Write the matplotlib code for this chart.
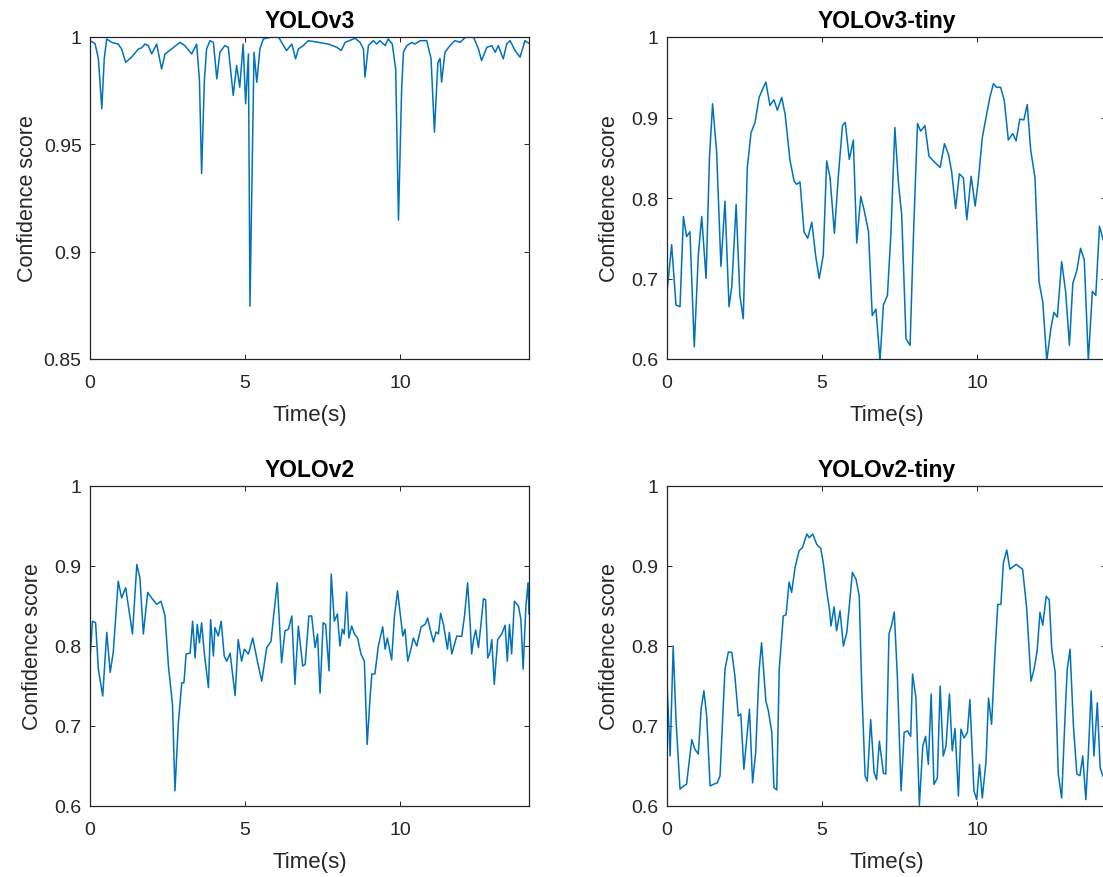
import matplotlib
matplotlib.use("Agg")
import matplotlib.pyplot as plt

plt.rcParams['font.family'] = ['Liberation Sans', 'DejaVu Sans']

# ---------------- data ----------------
titles = ["YOLOv3", "YOLOv3-tiny", "YOLOv2", "YOLOv2-tiny"]
xticks = [0, 5, 10]
xtick_labels = ["0", "5", "10"]
yticks_v3 = [0.85, 0.9, 0.95, 1.0]
ytick_labels_v3 = ["0.85", "0.9", "0.95", "1"]
yticks_other = [0.6, 0.7, 0.8, 0.9, 1.0]
ytick_labels_other = ["0.6", "0.7", "0.8", "0.9", "1"]
t_max = 14.16

t_v3 = [0, 0.16, 0.27, 0.38, 0.46, 0.54, 0.70, 0.91, 1.02, 1.15, 1.34, 1.56, 1.67, 1.77, 1.88, 1.99,
        2.15, 2.31, 2.42, 2.63, 2.90, 3.06, 3.28, 3.44, 3.53, 3.60, 3.69, 3.76, 3.87, 3.98, 4.09, 4.19,
        4.35, 4.46, 4.62, 4.73, 4.83, 4.94, 5.02, 5.11, 5.16, 5.29, 5.38, 5.48, 5.59, 5.86, 6.08, 6.18,
        6.34, 6.51, 6.63, 6.72, 6.88, 7.04, 7.37, 7.69, 7.96, 8.10, 8.23, 8.55, 8.71, 8.82, 8.87, 8.98,
        9.14, 9.25, 9.35, 9.52, 9.62, 9.75, 9.86, 9.95, 10.05, 10.11, 10.22, 10.38, 10.48, 10.65, 10.86,
        11.00, 11.11, 11.22, 11.29, 11.34, 11.45, 11.61, 11.77, 11.94, 12.10, 12.37, 12.53, 12.63, 12.80,
        12.96, 13.07, 13.17, 13.33, 13.44, 13.55, 13.71, 13.87, 14.03, 14.16]
conf_v3 = [0.9983, 0.997, 0.99, 0.9666, 0.99, 0.9991, 0.9975, 0.9967, 0.9944, 0.9882, 0.9906, 0.9944,
           0.995, 0.9967, 0.996, 0.9921, 0.9967, 0.9851, 0.9921, 0.9944, 0.9975, 0.996, 0.9921, 0.9967,
           0.98, 0.9364, 0.98, 0.9944, 0.9983, 0.9975, 0.9805, 0.9929, 0.996, 0.9952, 0.9728, 0.9867,
           0.9766, 0.9967, 0.9689, 0.9921, 0.8746, 0.9929, 0.9789, 0.9944, 0.9991, 1.0, 1.0, 0.9975,
           0.9937, 0.9967, 0.9898, 0.9944, 0.996, 0.9983, 0.9975, 0.9967, 0.9952, 0.9937, 0.9975, 0.9994,
           0.9975, 0.9944, 0.9813, 0.996, 0.9983, 0.9967, 0.9983, 0.996, 0.9991, 0.9967, 0.985, 0.9147,
           0.975, 0.9929, 0.996, 0.9975, 0.9967, 0.9983, 0.9983, 0.99, 0.9557, 0.988, 0.99, 0.979, 0.9929,
           0.996, 0.9983, 0.9975, 0.9998, 1.0, 0.9944, 0.989, 0.9952, 0.996, 0.9929, 0.996, 0.9898, 0.9967,
           0.9983, 0.9937, 0.9906, 0.9983, 0.997]

t_v3tiny = [0, 0.15, 0.29, 0.42, 0.53, 0.63, 0.74, 0.88, 1.01, 1.12, 1.26, 1.37, 1.47, 1.60, 1.74, 1.87,
            2.00, 2.09, 2.23, 2.35, 2.46, 2.59, 2.71, 2.84, 2.97, 3.11, 3.19, 3.32, 3.45, 3.56, 3.70, 3.81,
            3.97, 4.10, 4.18, 4.29, 4.42, 4.54, 4.67, 4.80, 4.91, 5.04, 5.15, 5.26, 5.40, 5.53, 5.66, 5.75,
            5.88, 6.01, 6.12, 6.25, 6.37, 6.50, 6.62, 6.74, 6.87, 6.98, 7.11, 7.22, 7.35, 7.46, 7.57, 7.71,
            7.84, 7.95, 8.08, 8.18, 8.32, 8.45, 8.59, 8.81, 8.95, 9.08, 9.18, 9.31, 9.43, 9.56, 9.67, 9.81,
            9.94, 10.04, 10.17, 10.31, 10.42, 10.53, 10.63, 10.76, 10.88, 11.01, 11.15, 11.26, 11.38, 11.51,
            11.62, 11.73, 11.87, 12.00, 12.12, 12.25, 12.38, 12.48, 12.59, 12.73, 12.86, 12.98, 13.09, 13.22,
            13.34, 13.46, 13.59, 13.72, 13.83, 13.95, 14.07, 14.16]
conf_v3tiny = [0.683, 0.742, 0.667, 0.665, 0.777, 0.752, 0.758, 0.615, 0.729, 0.777, 0.70, 0.85, 0.917,
               0.858, 0.715, 0.796, 0.665, 0.69, 0.792, 0.679, 0.65, 0.8375, 0.881, 0.894, 0.925, 0.9375,
               0.944, 0.915, 0.922, 0.909, 0.925, 0.904, 0.846, 0.821, 0.817, 0.82, 0.758, 0.75, 0.77, 0.727,
               0.70, 0.729, 0.846, 0.825, 0.756, 0.829, 0.89, 0.894, 0.848, 0.872, 0.744, 0.802, 0.783, 0.758,
               0.654, 0.662, 0.598, 0.667, 0.679, 0.754, 0.8875, 0.821, 0.779, 0.625, 0.617, 0.754, 0.8925,
               0.883, 0.89, 0.852, 0.846, 0.838, 0.8675, 0.854, 0.833, 0.787, 0.83, 0.825, 0.773, 0.827, 0.79,
               0.821, 0.875, 0.904, 0.926, 0.942, 0.9375, 0.9375, 0.921, 0.872, 0.88, 0.871, 0.898, 0.897,
               0.916, 0.860, 0.825, 0.696, 0.671, 0.598, 0.6375, 0.658, 0.652, 0.721, 0.683, 0.617, 0.694,
               0.71, 0.7375, 0.723, 0.598, 0.684, 0.679, 0.765, 0.748, 0.74]

t_v2 = [0, 0.08, 0.18, 0.27, 0.41, 0.54, 0.65, 0.75, 0.91, 1.02, 1.15, 1.37, 1.51, 1.61, 1.72, 1.86, 1.99,
        2.15, 2.29, 2.42, 2.53, 2.66, 2.74, 2.85, 2.96, 3.03, 3.10, 3.23, 3.31, 3.39, 3.46, 3.53, 3.60, 3.69,
        3.82, 3.89, 3.98, 4.03, 4.14, 4.23, 4.33, 4.41, 4.52, 4.68, 4.78, 4.89, 4.98, 5.11, 5.25, 5.41, 5.54,
        5.70, 5.84, 5.91, 6.04, 6.18, 6.29, 6.40, 6.51, 6.61, 6.72, 6.86, 6.94, 7.06, 7.15, 7.26, 7.34, 7.42,
        7.52, 7.60, 7.71, 7.78, 7.88, 7.98, 8.06, 8.14, 8.20, 8.28, 8.35, 8.44, 8.53, 8.63, 8.74, 8.85, 8.94,
        9.03, 9.09, 9.19, 9.30, 9.44, 9.52, 9.59, 9.73, 9.82, 9.92, 10.03, 10.09, 10.16, 10.25, 10.35, 10.43,
        10.54, 10.68, 10.81, 10.89, 10.97, 11.08, 11.16, 11.24, 11.31, 11.40, 11.53, 11.59, 11.67, 11.83,
        11.99, 12.08, 12.18, 12.26, 12.31, 12.37, 12.44, 12.53, 12.61, 12.69, 12.76, 12.83, 12.90, 12.96,
        13.04, 13.15, 13.28, 13.39, 13.46, 13.53, 13.60, 13.69, 13.82, 13.90, 13.97, 14.06, 14.13, 14.16]
conf_v2 = [0.783, 0.831, 0.829, 0.771, 0.7375, 0.817, 0.767, 0.792, 0.881, 0.86, 0.873, 0.815, 0.902, 0.885,
           0.815, 0.867, 0.86, 0.852, 0.856, 0.8375, 0.775, 0.727, 0.619, 0.704, 0.754, 0.754, 0.79, 0.791,
           0.831, 0.785, 0.827, 0.804, 0.829, 0.79, 0.748, 0.833, 0.7875, 0.823, 0.8125, 0.831, 0.7875, 0.781,
           0.791, 0.738, 0.808, 0.781, 0.796, 0.79, 0.81, 0.779, 0.756, 0.798, 0.806, 0.833, 0.879, 0.779,
           0.819, 0.821, 0.8375, 0.752, 0.825, 0.775, 0.777, 0.8375, 0.8375, 0.798, 0.815, 0.741, 0.829, 0.827,
           0.769, 0.890, 0.831, 0.840, 0.80, 0.821, 0.815, 0.8675, 0.81, 0.825, 0.815, 0.81, 0.79, 0.781, 0.677,
           0.733, 0.765, 0.765, 0.80, 0.824, 0.796, 0.81, 0.7825, 0.8375, 0.869, 0.833, 0.8125, 0.821, 0.781,
           0.796, 0.81, 0.80, 0.824, 0.827, 0.835, 0.821, 0.805, 0.8175, 0.815, 0.841, 0.827, 0.796, 0.817,
           0.79, 0.8125, 0.812, 0.8375, 0.879, 0.829, 0.79, 0.808, 0.82, 0.798, 0.827, 0.859, 0.858, 0.785,
           0.792, 0.808, 0.752, 0.808, 0.815, 0.826, 0.781, 0.827, 0.79, 0.856, 0.85, 0.833, 0.771, 0.85,
           0.879, 0.84]

t_v2tiny = [0, 0.10, 0.20, 0.29, 0.42, 0.53, 0.63, 0.80, 0.90, 1.01, 1.10, 1.19, 1.28, 1.39, 1.49, 1.62,
            1.71, 1.87, 1.98, 2.09, 2.19, 2.30, 2.38, 2.48, 2.66, 2.76, 2.86, 2.97, 3.05, 3.19, 3.27, 3.38,
            3.45, 3.54, 3.62, 3.75, 3.84, 3.94, 4.02, 4.13, 4.26, 4.37, 4.51, 4.59, 4.70, 4.83, 4.96, 5.04,
            5.15, 5.24, 5.29, 5.39, 5.47, 5.58, 5.69, 5.80, 5.98, 6.10, 6.20, 6.28, 6.39, 6.46, 6.57, 6.68,
            6.76, 6.85, 6.98, 7.06, 7.16, 7.25, 7.33, 7.43, 7.55, 7.65, 7.76, 7.86, 7.92, 8.03, 8.14, 8.25,
            8.34, 8.43, 8.52, 8.61, 8.72, 8.81, 8.91, 9.00, 9.11, 9.20, 9.29, 9.40, 9.48, 9.58, 9.69, 9.77,
            9.90, 9.99, 10.08, 10.17, 10.29, 10.37, 10.47, 10.58, 10.67, 10.77, 10.85, 10.96, 11.06, 11.26,
            11.47, 11.60, 11.74, 11.84, 11.94, 12.03, 12.12, 12.23, 12.33, 12.41, 12.52, 12.62, 12.73, 12.84,
            12.91, 13.00, 13.11, 13.22, 13.32, 13.41, 13.51, 13.59, 13.68, 13.77, 13.88, 13.97, 14.06, 14.16]
conf_v2tiny = [0.754, 0.6625, 0.80, 0.708, 0.621, 0.625, 0.627, 0.683, 0.671, 0.665, 0.721, 0.744, 0.7125,
               0.625, 0.627, 0.629, 0.6375, 0.771, 0.7925, 0.792, 0.7625, 0.7125, 0.715, 0.646, 0.721, 0.629,
               0.667, 0.769, 0.804, 0.731, 0.719, 0.692, 0.623, 0.62, 0.771, 0.8375, 0.839, 0.88, 0.867, 0.898,
               0.919, 0.923, 0.94, 0.9354, 0.94, 0.927, 0.922, 0.904, 0.869, 0.846, 0.825, 0.849, 0.819, 0.844,
               0.80, 0.817, 0.892, 0.883, 0.8625, 0.75, 0.6375, 0.631, 0.708, 0.642, 0.633, 0.681, 0.641, 0.64,
               0.815, 0.827, 0.8425, 0.7625, 0.619, 0.692, 0.694, 0.687, 0.765, 0.735, 0.601, 0.675, 0.687,
               0.652, 0.74, 0.627, 0.635, 0.75, 0.6625, 0.675, 0.74, 0.669, 0.697, 0.6125, 0.696, 0.685, 0.692,
               0.733, 0.619, 0.608, 0.652, 0.61, 0.656, 0.735, 0.702, 0.792, 0.852, 0.852, 0.904, 0.92, 0.896,
               0.902, 0.896, 0.848, 0.756, 0.771, 0.794, 0.842, 0.826, 0.862, 0.858, 0.796, 0.767, 0.64, 0.61,
               0.7125, 0.771, 0.796, 0.70, 0.64, 0.638, 0.6625, 0.608, 0.665, 0.744, 0.6625, 0.729, 0.648,
               0.6375, 0.63]

# ---------------- figure ----------------
W, H = 1103, 878
fig = plt.figure(figsize=(W / 100, H / 100), dpi=100)
fig.patch.set_facecolor("white")

def px_axes(left, top, right, bottom):
    return [left / W, 1 - bottom / H, (right - left) / W, (bottom - top) / H]

# (axes box, x, y, ylim, yticks, ytick labels, ylabel x offset in px)
panels = [
    (px_axes(90, 38, 529, 360), t_v3, conf_v3, (0.85, 1.0), yticks_v3, ytick_labels_v3, -52),
    (px_axes(667, 38, 1106, 360), t_v3tiny, conf_v3tiny, (0.6, 1.0), yticks_other, ytick_labels_other, -47),
    (px_axes(90, 487, 529, 807), t_v2, conf_v2, (0.6, 1.0), yticks_other, ytick_labels_other, -47),
    (px_axes(667, 487, 1106, 807), t_v2tiny, conf_v2tiny, (0.6, 1.0), yticks_other, ytick_labels_other, -47),
]

line_color = "#0072BD"
axis_color = "#262626"

for title, (pos, t, c, ylim, yt, ytl, ylab_dx) in zip(titles, panels):
    ax = fig.add_axes(pos)
    ax.plot(t, c, color=line_color, linewidth=1.1)
    ax.set_xlim(0, t_max)
    ax.set_ylim(*ylim)
    ax.set_xticks(xticks)
    ax.set_xticklabels(xtick_labels)
    ax.set_yticks(yt)
    ax.set_yticklabels(ytl)
    ax.tick_params(direction="in", length=3.5, width=0.7, colors=axis_color,
                   labelsize=14, top=True, right=True)
    ax.tick_params(axis="x", pad=11)
    ax.tick_params(axis="y", pad=6)
    for s in ax.spines.values():
        s.set_color(axis_color)
        s.set_linewidth(0.9)
    ax.set_title(title, fontsize=16.5, fontweight="bold", color="black", pad=7)
    ax.set_xlabel("Time(s)", fontsize=16, color=axis_color)
    ax.set_ylabel("Confidence score", fontsize=15.5, color=axis_color)
    ax.xaxis.set_label_coords(0.5, -0.14)
    ax.yaxis.set_label_coords(ylab_dx / 439.0, 0.5)

fig.savefig("out.png", dpi=100)
